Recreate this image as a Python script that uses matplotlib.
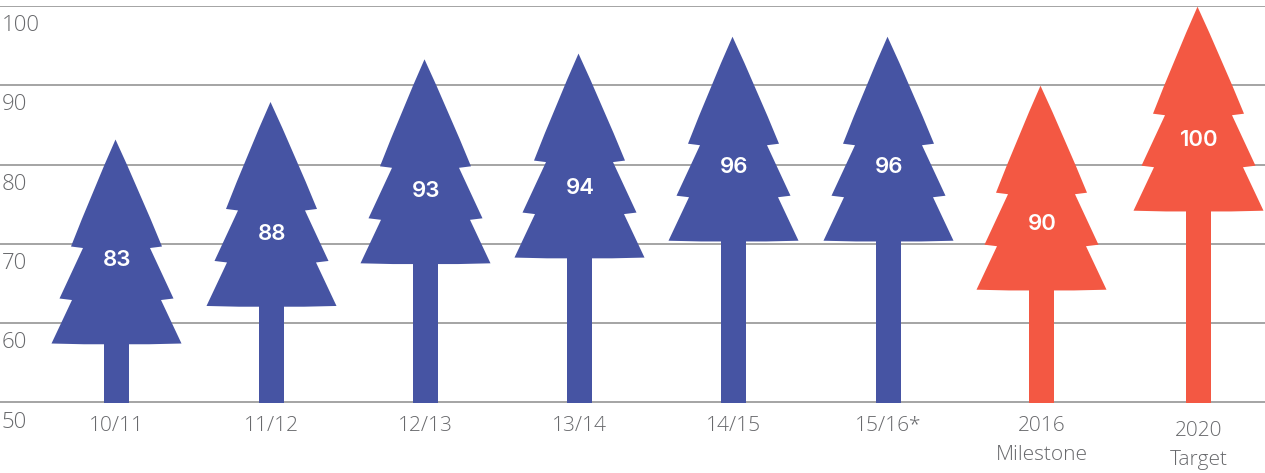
import matplotlib
matplotlib.use("Agg")
import matplotlib.pyplot as plt
from matplotlib.path import Path
from matplotlib.patches import PathPatch
from matplotlib.transforms import Affine2D

categories = ["10/11", "11/12", "12/13", "13/14", "14/15", "15/16*", "2016\nMilestone", "2020\nTarget"]
values = [83, 88, 93, 94, 96, 96, 90, 100]
y_ticks = [50, 60, 70, 80, 90, 100]

BLUE = "#4654A3"
RED = "#F35843"
colors = [BLUE] * 6 + [RED] * 2
GRAY = "#68696C"

plt.rcParams["font.family"] = ["Open Sans", "DejaVu Sans"]

W, H = 1265, 473
fig = plt.figure(figsize=(W / 100, H / 100), dpi=100, facecolor="white")
base_px, top_px = 402.5, 6.0
ax = fig.add_axes([0, 1 - base_px / H, 1, (base_px - top_px) / H])
tree_x = [116.5, 271.5, 425.5, 579.5, 733.5, 888.5, 1041.5, 1198.5]
top_nudge_px = [1.3, -0.8, 2.2, 0, 1, 1, -0.4, -0.7]
ax.set_xlim(0, W)
ax.set_ylim(50, 100)
for s in ax.spines.values():
    s.set_visible(False)

px_y = (base_px - top_px) / 50

# tree outline as pixel offsets from the apex: (half-width, depth)
def crown(cx, top, color):
    def P(dx, dy):
        return (cx + dx, top - dy / px_y)
    verts, codes = [P(-1, 0)], [Path.MOVETO]
    def curve(c, e):
        verts.extend([P(*c), P(*e)])
        codes.extend([Path.CURVE3, Path.CURVE3])
    def line(e):
        verts.append(P(*e))
        codes.append(Path.LINETO)
    curve((23, 52), (45.5, 107))
    line((33.5, 108.5))
    line((57, 159))
    line((44.5, 160.5))
    line((65, 204))
    curve((0, 206), (-65, 204))
    line((-44.5, 160.5))
    line((-57, 159))
    line((-33.5, 108.5))
    line((-45.5, 107))
    curve((-24, 52), (-1, 0))
    codes.append(Path.CLOSEPOLY)
    verts.append(P(-1, 0))
    ax.add_patch(PathPatch(Path(verts, codes), facecolor=color, edgecolor="none",
                           zorder=3, clip_on=False))

label_depth = [120, 132, 132, 134, 130, 130, 138, 133]
for i, (v, c) in enumerate(zip(values, colors)):
    top = v + top_nudge_px[i] / px_y
    crown(tree_x[i], top, c)
    crown_base = top - 204 / px_y
    ax.bar(tree_x[i], crown_base - 50 + 0.3, bottom=50, width=25, color=c, zorder=3)
    ax.text(tree_x[i] + 1, top - label_depth[i] / px_y, str(v), ha="center", va="center",
            color="white", fontsize=16, fontweight="semibold", family=["Inter", "DejaVu Sans"], zorder=4)

ax.set_yticks(y_ticks)
ax.set_yticklabels([str(t) for t in y_ticks])
ax.set_xticks(tree_x)
ax.set_xticklabels(categories, linespacing=1.6)
ax.grid(axis="y", color="#8C8C8C", linewidth=1.1, zorder=1)
ax.set_axisbelow(True)
ax.tick_params(axis="both", length=0)
ax.tick_params(axis="y", pad=-1, labelsize=16, labelcolor=GRAY)
ax.tick_params(axis="x", pad=10, labelsize=15, labelcolor=GRAY)

for lab in ax.get_yticklabels():
    lab.set_ha("left")
    lab.set_fontweight("light")
    lab.set_transform(lab.get_transform() + Affine2D().translate(0, -17))
for i, lab in enumerate(ax.get_xticklabels()):
    lab.set_fontweight("light")
    if categories[i].startswith("2020"):
        lab.set_transform(lab.get_transform() + Affine2D().translate(0, -5))

fig.savefig("out.png", dpi=100, facecolor="white")
